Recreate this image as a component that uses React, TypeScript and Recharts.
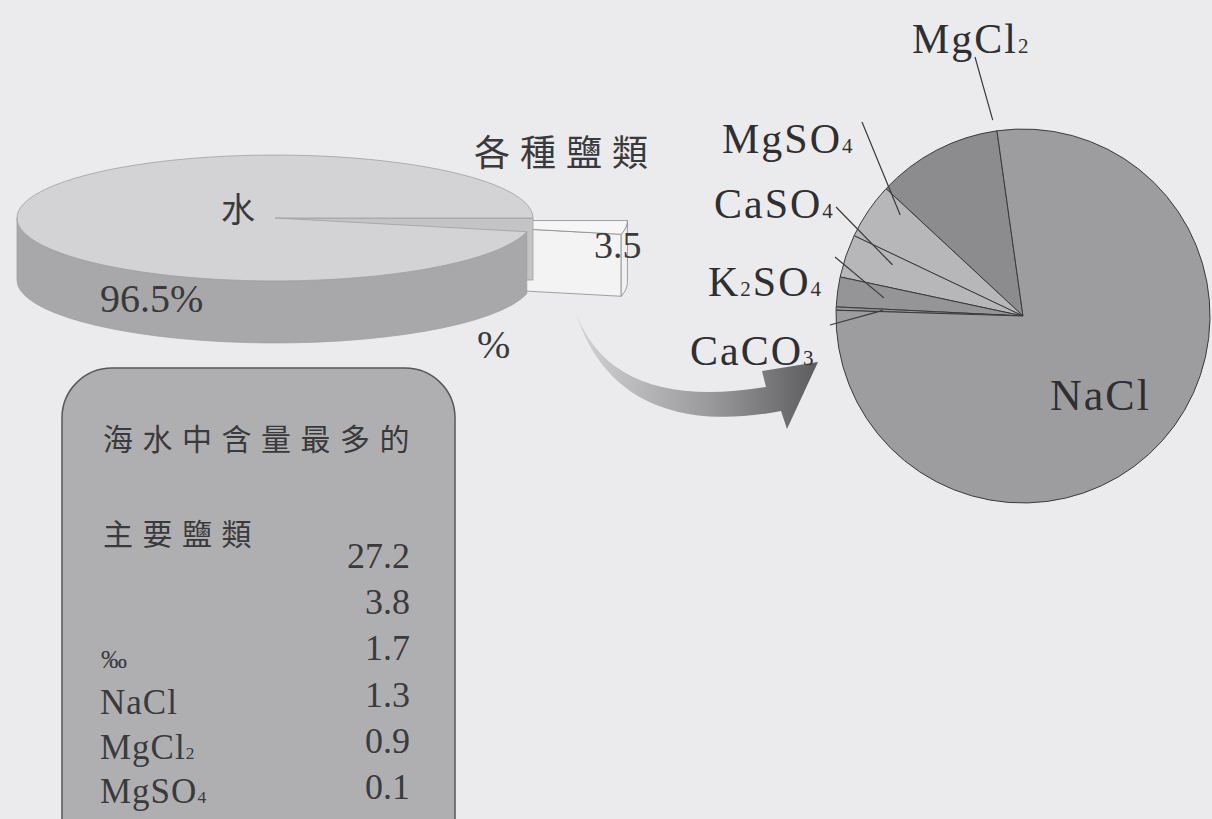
import React from "react";
import { PieChart, Pie, Cell } from "recharts";

// seawater composition (percent)
const seawaterParts = ["水", "各種鹽類"];
const seawaterShares = [96.5, 3.5];

// main dissolved salts (per mille)
const saltNames = ["NaCl", "MgCl2", "MgSO4", "CaSO4", "K2SO4", "CaCO3"];
const saltPermille = [27.2, 3.8, 1.7, 1.3, 0.9, 0.1];

const tableCaption = ["海水中含量最多的", "主要鹽類"];
const permilleUnit = "‰";

const W = 1212;
const H = 819;
const BG = "#ebebed";
const INK = "#2f2f31";
const SERIF = '"Liberation Serif", "DejaVu Serif", serif';
const CJK = '"Noto Sans CJK TC", "Noto Sans CJK SC", sans-serif';

const seawaterData = seawaterParts.map((name, i) => ({ name, value: seawaterShares[i] }));
// NaCl last so it sweeps the big remaining arc, the small salts stack up the left side
const saltData = [...saltNames.slice(1), saltNames[0]].map((name) => ({
  name,
  value: saltPermille[saltNames.indexOf(name)],
}));

const saltFill: Record<string, string> = {
  NaCl: "#9d9d9f",
  MgCl2: "#8c8c8e",
  MgSO4: "#b7b7b9",
  CaSO4: "#b7b7b9",
  K2SO4: "#959597",
  CaCO3: "#959597",
};

const slabColors: Record<string, { top: string; side: string; cut: string; stroke: string }> = {
  水: { top: "#d3d3d5", side: "#a8a8aa", cut: "#c4c4c6", stroke: "#a0a0a2" },
  各種鹽類: { top: "#f6f6f6", side: "#f1f1f1", cut: "#f3f3f3", stroke: "#8a8a8c" },
};

const TILT = 0.244;
const DEPTH = 62;
const EXPLODE = 95;
const rad = (d: number) => (d * Math.PI) / 180;

// flattened, extruded pie slice drawn from the sector angles recharts computes
function slab(props: any) {
  const { cx, cy, outerRadius: r, startAngle, endAngle } = props;
  const name = props.payload?.name ?? props.name;
  const c = slabColors[name] ?? slabColors["水"];
  const lo = Math.min(startAngle, endAngle);
  const hi = Math.max(startAngle, endAngle);
  const mid = (lo + hi) / 2;
  const pulled = name !== seawaterParts[0];
  const x0 = cx + (pulled ? EXPLODE * Math.cos(rad(mid)) : 0);
  const y0 = cy - (pulled ? EXPLODE * TILT * Math.sin(rad(mid)) : 0);
  const ry = r * TILT;
  const pt = (deg: number, dy = 0) =>
    `${x0 + r * Math.cos(rad(deg))},${y0 - ry * Math.sin(rad(deg)) + dy}`;

  const faces: React.ReactNode[] = [];

  // radial cut faces that turn toward the viewer
  const cut = (deg: number, key: string) => (
    <path
      key={key}
      d={`M${x0},${y0} L${pt(deg)} L${pt(deg, DEPTH)} L${x0},${y0 + DEPTH} Z`}
      fill={c.cut}
      stroke={c.stroke}
      strokeWidth={0.8}
    />
  );
  if (Math.cos(rad(lo)) > 0.001) faces.push(cut(lo, "lo"));
  if (Math.cos(rad(hi)) < -0.001) faces.push(cut(hi, "hi"));

  // outer rim, front half only
  for (const k of [0, 1, 2]) {
    const a1 = Math.max(lo, -180 + 360 * k);
    const a2 = Math.min(hi, 360 * k);
    if (a2 - a1 > 0.01) {
      faces.push(
        <path
          key={`rim${k}`}
          d={`M${pt(a1)} A${r},${ry} 0 0 0 ${pt(a2)} L${pt(a2, DEPTH)} A${r},${ry} 0 0 1 ${pt(a1, DEPTH)} Z`}
          fill={c.side}
          stroke={c.stroke}
          strokeWidth={0.8}
        />
      );
    }
  }

  const large = hi - lo > 180 ? 1 : 0;
  faces.push(
    <path
      key="top"
      d={`M${x0},${y0} L${pt(lo)} A${r},${ry} 0 ${large} 0 ${pt(hi)} Z`}
      fill={c.top}
      stroke={c.stroke}
      strokeWidth={0.8}
    />
  );
  return <g>{faces}</g>;
}

// the pulled-out salt slice sits behind the water slab, so it is drawn by a first pass
const saltSlabOnly = (props: any) =>
  (props.payload?.name ?? props.name) === seawaterParts[1] ? slab(props) : <g />;
const waterSlabOnly = (props: any) =>
  (props.payload?.name ?? props.name) === seawaterParts[0] ? slab(props) : <g />;

function Formula({ text, size }: { text: string; size: number }) {
  const runs = text.match(/\d+|\D+/g) ?? [];
  return (
    <>
      {runs.map((run, i) =>
        /\d/.test(run) ? (
          <tspan key={i} fontSize={size * 0.5}>
            {run}
          </tspan>
        ) : (
          <tspan key={i}>{run}</tspan>
        )
      )}
    </>
  );
}

const saltLabelSpots: Record<
  string,
  { x: number; y: number; size: number; from?: [number, number]; t?: number; r?: number }
> = {
  MgCl2: { x: 912, y: 53, size: 42, from: [975, 57], t: 0.02, r: 1.06 },
  MgSO4: { x: 722, y: 153, size: 42, from: [862, 122], t: 0.2, r: 0.85 },
  CaSO4: { x: 714, y: 218, size: 42, from: [836, 207], t: 0.3, r: 0.75 },
  K2SO4: { x: 708, y: 296, size: 42, from: [835, 257], t: 0.5, r: 0.75 },
  CaCO3: { x: 690, y: 365, size: 42, from: [830, 325], t: 0.5, r: 0.75 },
  NaCl: { x: 1050, y: 410, size: 44 },
};

function SaltLabel(props: any) {
  const { cx, cy, outerRadius, startAngle, endAngle, name } = props;
  const spot = saltLabelSpots[name];
  if (!spot) return null;
  let leader = null;
  if (spot.from) {
    const a = startAngle + (spot.t ?? 0.5) * (endAngle - startAngle);
    const rr = outerRadius * (spot.r ?? 0.8);
    leader = (
      <line
        x1={spot.from[0]}
        y1={spot.from[1]}
        x2={cx + rr * Math.cos(rad(a))}
        y2={cy - rr * Math.sin(rad(a))}
        stroke="#3a3a3c"
        strokeWidth={1.2}
      />
    );
  }
  return (
    <g>
      {leader}
      <text x={spot.x} y={spot.y} fontFamily={SERIF} fontSize={spot.size} fill={INK} letterSpacing={2}>
        <Formula text={name} size={spot.size} />
      </text>
    </g>
  );
}

export default function App() {
  const tableRight = 410;
  const tableRow0 = 568;
  const tableStep = 46.2;
  const slabPie = {
    data: seawaterData,
    dataKey: "value",
    nameKey: "name",
    cx: 275,
    cy: 218,
    outerRadius: 258,
    startAngle: 0,
    endAngle: 360,
    stroke: "none",
    label: false,
    labelLine: false,
    isAnimationActive: false,
  };
  return (
    <div
      style={{
        position: "fixed",
        left: 0,
        top: 0,
        width: W,
        height: H,
        overflow: "hidden",
        background: BG,
      }}
    >
      {/* summary card and connecting arrow */}
      <svg width={W} height={H} style={{ position: "absolute", left: 0, top: 0 }}>
        <defs>
          <linearGradient id="arrowShade" x1="0" y1="0" x2="1" y2="0">
            <stop offset="0" stopColor="#d3d3d5" />
            <stop offset="0.55" stopColor="#9a9a9c" />
            <stop offset="1" stopColor="#5c5c5e" />
          </linearGradient>
        </defs>
        <rect x={62} y={368} width={393} height={560} rx={50} fill="#afafb1" stroke="#58585a" strokeWidth={1.5} />
        <text x={103} y={450} fontFamily={CJK} fontSize={30} letterSpacing={9.5} fill="#3a3a3c">
          {tableCaption[0]}
        </text>
        <text x={103} y={545} fontFamily={CJK} fontSize={30} letterSpacing={9.5} fill="#3a3a3c">
          {tableCaption[1]}
        </text>
        {saltPermille.map((v, i) => (
          <text
            key={`v${i}`}
            x={tableRight}
            y={tableRow0 + i * tableStep}
            textAnchor="end"
            fontFamily={SERIF}
            fontSize={36}
            fill="#3a3a3c"
          >
            {v.toFixed(1)}
          </text>
        ))}
        <text x={101} y={668} fontFamily={SERIF} fontSize={26} fill="#3a3a3c">
          {permilleUnit}
        </text>
        {saltNames.slice(0, 3).map((n, i) => (
          <text
            key={`n${i}`}
            x={100}
            y={714 + i * 44.5}
            fontFamily={SERIF}
            fontSize={35}
            letterSpacing={1}
            fill="#3a3a3c"
          >
            <Formula text={n} size={35} />
          </text>
        ))}
        <path
          d="M576,313 C600,378 664,404 766,387 L762,371 L818,362 L787,429 L781,411 C672,432 602,396 576,313 Z"
          fill="url(#arrowShade)"
        />
      </svg>

      <div style={{ position: "absolute", left: 0, top: 0 }}>
        <PieChart width={W} height={H} margin={{ top: 0, right: 0, bottom: 0, left: 0 }}>
          <Pie {...slabPie} shape={saltSlabOnly} inactiveShape={saltSlabOnly} activeShape={saltSlabOnly} />
          <Pie {...slabPie} shape={waterSlabOnly} inactiveShape={waterSlabOnly} activeShape={waterSlabOnly} />
          <Pie
            data={saltData}
            dataKey="value"
            nameKey="name"
            cx={1023}
            cy={316}
            outerRadius={187}
            startAngle={98}
            endAngle={458}
            stroke="#3a3a3c"
            strokeWidth={1}
            label={SaltLabel}
            labelLine={false}
            isAnimationActive={false}
          >
            {saltData.map((d) => (
              <Cell key={d.name} fill={saltFill[d.name]} />
            ))}
          </Pie>
        </PieChart>
      </div>

      {/* labels for the seawater slab */}
      <svg width={W} height={H} style={{ position: "absolute", left: 0, top: 0, pointerEvents: "none" }}>
        <text x={474} y={166} fontFamily={CJK} fontSize={36} letterSpacing={10} fill="#3a3a3c">
          {seawaterParts[1]}
        </text>
        <text x={221} y={222} fontFamily={CJK} fontSize={34} fill="#3a3a3c">
          {seawaterParts[0]}
        </text>
        <text x={100} y={312} fontFamily={SERIF} fontSize={40} fill="#3a3a3c">
          {`${seawaterShares[0]}%`}
        </text>
        <text x={594} y={258} fontFamily={SERIF} fontSize={38} fill="#3a3a3c">
          {seawaterShares[1]}
        </text>
        <text x={477} y={358} fontFamily={SERIF} fontSize={40} fill="#3a3a3c">
          %
        </text>
      </svg>
    </div>
  );
}
